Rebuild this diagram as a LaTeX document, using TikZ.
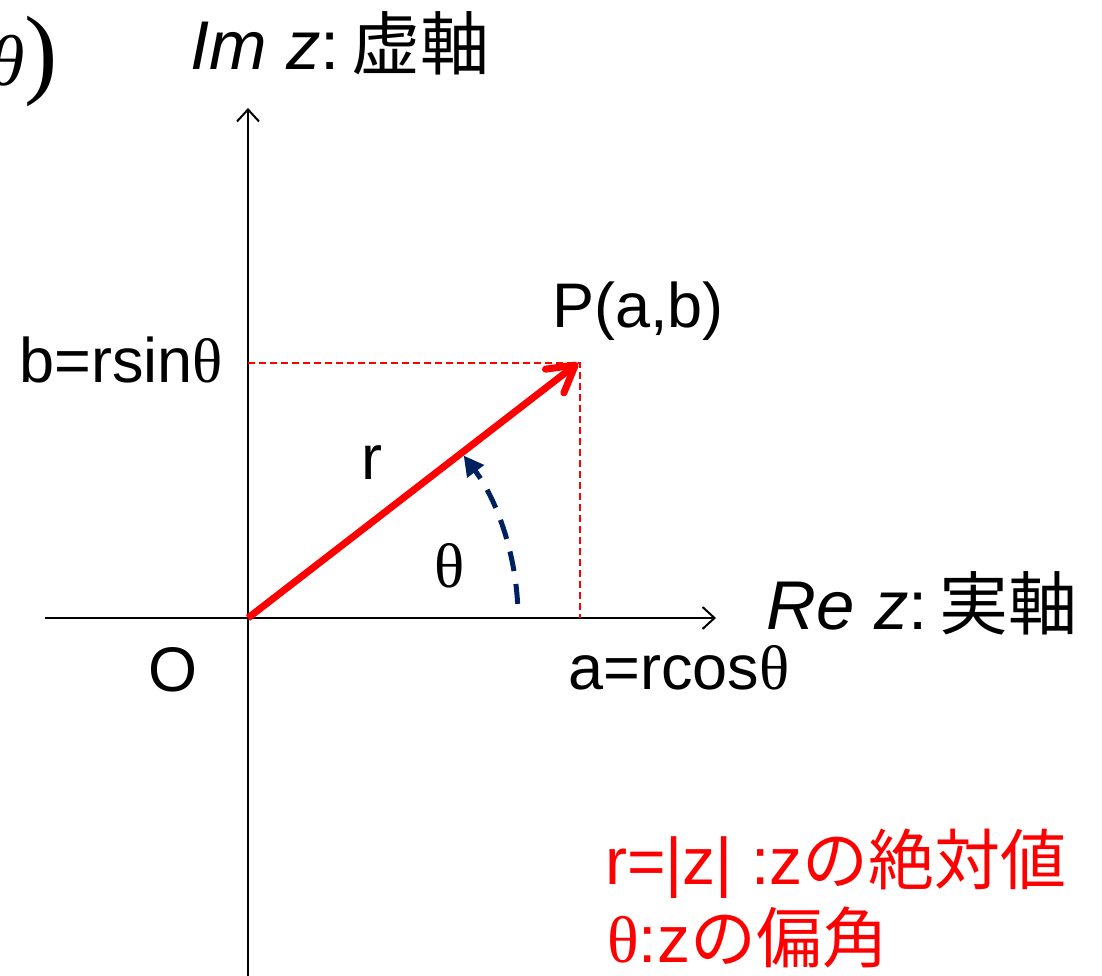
\documentclass[tikz,border=0pt]{standalone}
\usepackage{fontspec}
\setmainfont{Liberation Sans}
\newfontfamily\cjk{Noto Sans CJK JP}
\newfontfamily\serif{Liberation Serif}
\usetikzlibrary{arrows.meta}
\definecolor{navy}{RGB}{0,32,96}
\tikzset{
  lbl/.style={inner sep=0pt, anchor=base, font=\fontsize{63}{70}\selectfont},
  axislbl/.style={inner sep=0pt, anchor=base, font=\fontsize{69}{76}\selectfont},
  redlbl/.style={inner sep=0pt, text=red, font=\fontsize{66}{72}\selectfont, anchor=base west},
  axis/.style={line width=2pt, -{Straight Barb[length=12pt,width=22pt,line width=2pt]}},
  helper/.style={red, line width=1.4pt, dash pattern=on 7pt off 4pt},
  vec/.style={red, line width=7pt, -{Straight Barb[length=26pt,width=30pt,line width=7pt,round]}},
  anglearc/.style={navy, line width=5pt, dash pattern=on 20pt off 13pt, -{Triangle[length=20pt,width=20pt]}}
}
\begin{document}
\begin{tikzpicture}[x=1pt,y=1pt]
\useasboundingbox (0,0) rectangle (1102,976);
\coordinate (O) at (248,358);
\coordinate (P) at (578,613);
\coordinate (ybot) at (248,0);
\coordinate (ytop) at (248,868);
\coordinate (xleft) at (45,358);
\coordinate (xright) at (716,358);
\coordinate (hb) at (248,613);
\coordinate (hp) at (580,613);
\coordinate (va) at (580,358);
\draw[axis] (ybot) -- (ytop);
\draw[axis] (xleft) -- (xright);
\draw[helper] (hb) -- (hp) -- (va);
\draw[vec] (O) -- (P);
\draw[anglearc] (O) ++(3:270) arc[start angle=3, end angle=37, radius=270];
\node[inner sep=0pt, anchor=base east] (cut) at (58,890) {\serif\fontsize{72}{80}\selectfont\textit{θ}\fontsize{100}{104}\selectfont)};
\node[axislbl] (imlbl) at (340,906) {\textit{Im z}:\,{\cjk 虚軸}};
\node[axislbl] (relbl) at (922,346) {\textit{Re z}:\,{\cjk 実軸}};
\node[lbl] (plbl) at (638,648) {P(a,b)};
\node[lbl] (blbl) at (121,593) {b=rsin{\serif θ}};
\node[lbl] (albl) at (679,286) {a=rcos{\serif θ}};
\node[lbl] (rlbl) at (372,496) {r};
\node[lbl] (thlbl) at (450,388) {\serif θ};
\node[lbl] (olbl) at (173,284) {O};
\node[redlbl] (abs) at (605,91) {r=|z| :z{\cjk の絶対値}};
\node[redlbl] (arg) at (607,13) {{\serif θ}:z{\cjk の偏角}};
\end{tikzpicture}
\end{document}
